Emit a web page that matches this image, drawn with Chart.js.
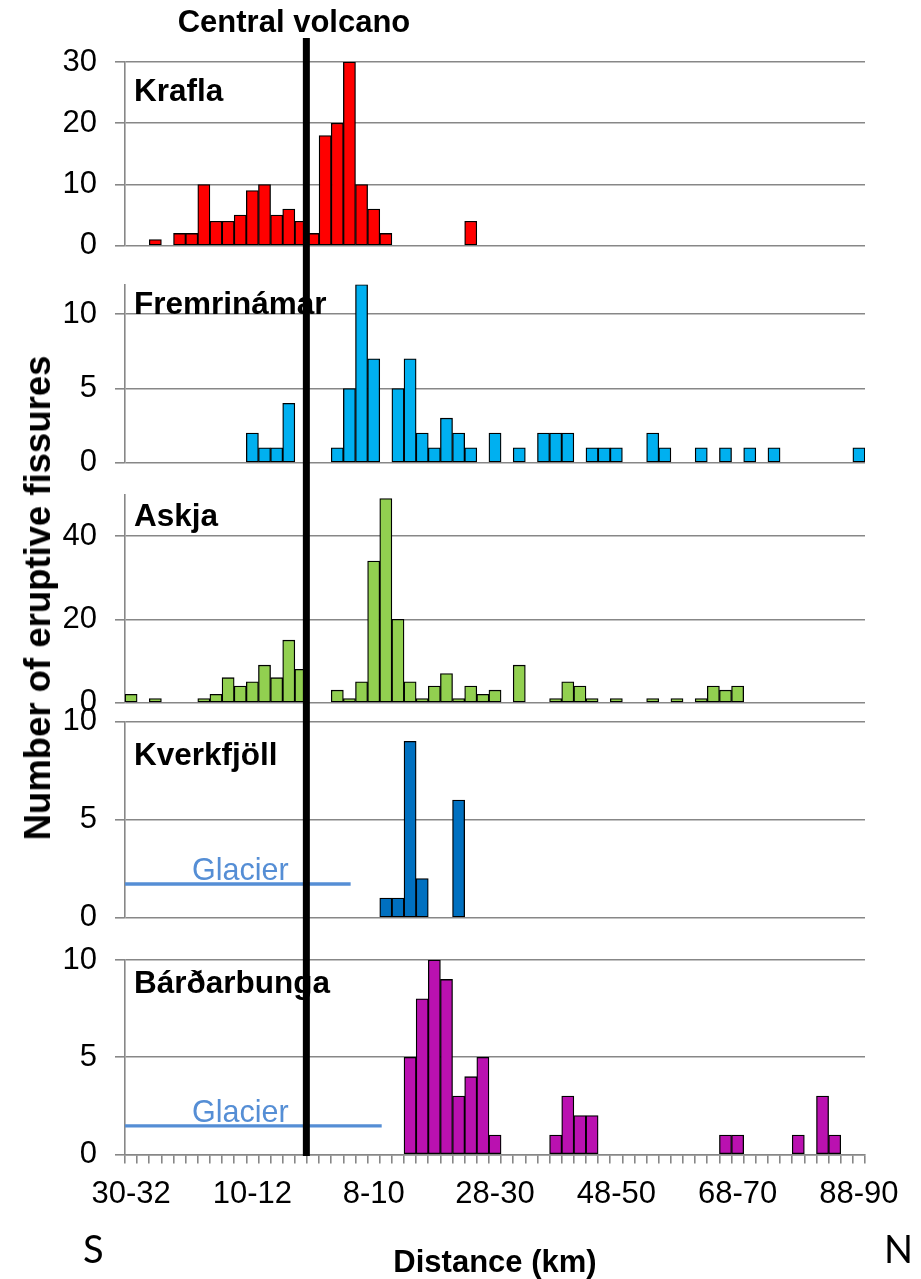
<!DOCTYPE html>
<html>
<head>
<meta charset="utf-8">
<script src="https://cdn.jsdelivr.net/npm/chart.js@4.4.1/dist/chart.umd.min.js"></script>
<style>
html,body{margin:0;padding:0;background:#fff;}
#wrap{position:relative;width:921px;height:1279px;overflow:hidden;font-family:"Liberation Sans",Arial,sans-serif;}
#wrap canvas{position:absolute;left:0;top:0;}
.t{position:absolute;white-space:nowrap;color:#000;}
#title{left:294px;top:6px;transform:translateX(-50%);font-weight:bold;font-size:31px;line-height:31px;}
#ytitle{left:37.5px;top:597.5px;transform:translate(-50%,-50%) rotate(-90deg);font-weight:bold;font-size:36.5px;line-height:36px;}
.dir{font-family:Lato,"Open Sans",sans-serif;font-size:38px;line-height:38px;top:1229px;}
#dirS{left:83px;}
#dirN{left:884px;}
</style>
</head>
<body>
<div id="wrap">
  <canvas id="c0" width="921" height="1279"></canvas>
  <canvas id="c1" width="921" height="1279"></canvas>
  <canvas id="c2" width="921" height="1279"></canvas>
  <canvas id="c3" width="921" height="1279"></canvas>
  <canvas id="c4" width="921" height="1279"></canvas>
  <div class="t" id="title">Central volcano</div>
  <div class="t" id="ytitle">Number of eruptive fissures</div>
  <div class="t dir" id="dirS">S</div>
  <div class="t dir" id="dirN">N</div>
</div>
<script>
// ---- categories: 2 km bins, south side then north side ----
const categories = [
  '30-32','28-30','26-28','24-26','22-24','20-22','18-20','16-18','14-16','12-14',
  '10-12','8-10','6-8','4-6','2-4','0-2',
  '0-2','2-4','4-6','6-8','8-10','10-12','12-14','14-16','16-18','18-20',
  '20-22','22-24','24-26','26-28','28-30','30-32','32-34','34-36','36-38','38-40',
  '40-42','42-44','44-46','46-48','48-50','50-52','52-54','54-56','56-58','58-60',
  '60-62','62-64','64-66','66-68','68-70','70-72','72-74','74-76','76-78','78-80',
  '80-82','82-84','84-86','86-88','88-90'
];
const shownTickIndex = [0, 10, 20, 30, 40, 50, 60];

// ---- series values (number of eruptive fissures per bin) ----
const krafla = [
  0,0,1,0,2,2,10,4,4,5, 9,10,5,6,4,2, 18,20,30,10,6,2,0,0,0,0, 0,0,4,0,0,0,0,0,0,0,
  0,0,0,0,0,0,0,0,0,0, 0,0,0,0,0,0,0,0,0,0, 0,0,0,0,0
];
const fremrinamar = [
  0,0,0,0,0,0,0,0,0,0, 2,1,1,4,0,0, 0,1,5,12,7,0,5,7,2,1, 3,2,1,0,2,0,1,0,2,2,
  2,0,1,1,1,0,0,2,1,0, 0,1,0,1,0,1,0,1,0,0, 0,0,0,0,1
];
const askja = [
  2,0,1,0,0,0,1,2,6,4, 5,9,6,15,8,0, 0,3,1,5,34,49,20,5,1,4, 7,1,4,2,3,0,9,0,0,1,
  5,4,1,0,1,0,0,1,0,1, 0,1,4,3,4,0,0,0,0,0, 0,0,0,0,0
];
const kverkfjoll = [
  0,0,0,0,0,0,0,0,0,0, 0,0,0,0,0,0, 0,0,0,0,0,1,1,9,2,0, 0,6,0,0,0,0,0,0,0,0,
  0,0,0,0,0,0,0,0,0,0, 0,0,0,0,0,0,0,0,0,0, 0,0,0,0,0
];
const bardarbunga = [
  0,0,0,0,0,0,0,0,0,0, 0,0,0,0,0,0, 0,0,0,0,0,0,0,5,8,10, 9,3,4,5,1,0,0,0,0,1,
  3,2,2,0,0,0,0,0,0,0, 0,0,0,1,1,0,0,0,0,1, 0,3,1,0,0
];

// ---- y tick values per panel ----
const kraflaTicks = [0, 10, 20, 30];
const fremrinamarTicks = [0, 5, 10];
const askjaTicks = [0, 20, 40];
const kverkfjollTicks = [0, 5, 10];
const bardarbungaTicks = [0, 5, 10];

const panelNames = ['Krafla', 'Fremrinámar', 'Askja', 'Kverkfjöll', 'Bárðarbunga'];

// ---- styling / layout (not data) ----
const GRID = '#878787';
const GLACIER = '#558ED5';
const FONT = '"Liberation Sans", Arial, sans-serif';

const panels = [
  {name: panelNames[0], data: krafla, ticks: kraflaTicks, max: 30, color: '#FF0000',
   top: 62, bottom: 1279 - 245.7, nameDy: 39},
  {name: panelNames[1], data: fremrinamar, ticks: fremrinamarTicks, max: 12, color: '#00B0F0',
   top: 284.6, bottom: 1279 - 462.7, nameDy: 29.7},
  {name: panelNames[2], data: askja, ticks: askjaTicks, max: 50, color: '#92D050',
   top: 494.3, bottom: 1279 - 702.7, nameDy: 31.4},
  {name: panelNames[3], data: kverkfjoll, ticks: kverkfjollTicks, max: 10, color: '#0070C0',
   top: 721.7, bottom: 1279 - 917.7, nameDy: 43.3,
   glacier: {level: 1.72, end: 18.1, textAt: 9}},
  {name: panelNames[4], data: bardarbunga, ticks: bardarbungaTicks, max: 10, color: '#BA11B0',
   top: 960, bottom: 0, nameDy: 33.3, last: true,
   glacier: {level: 1.47, end: 20.66, textAt: 9}}
];

const decoPlugin = {
  id: 'deco',
  afterDatasetsDraw(chart, args, opts) {
    const {ctx, chartArea} = chart;
    const xs = chart.scales.x, ys = chart.scales.y;
    ctx.save();
    if (opts.glacier) {
      const gy = ys.getPixelForValue(opts.glacier.level);
      const gx2 = xs.getPixelForValue(opts.glacier.end);
      ctx.strokeStyle = GLACIER;
      ctx.lineWidth = 3.3;
      ctx.beginPath();
      ctx.moveTo(chartArea.left, gy);
      ctx.lineTo(gx2, gy);
      ctx.stroke();
      ctx.fillStyle = GLACIER;
      ctx.font = '30.5px ' + FONT;
      ctx.textAlign = 'center';
      ctx.textBaseline = 'alphabetic';
      ctx.fillText('Glacier', xs.getPixelForValue(opts.glacier.textAt), gy - 4);
    }
    ctx.fillStyle = '#000';
    ctx.font = 'bold 31.5px ' + FONT;
    ctx.textAlign = 'left';
    ctx.textBaseline = 'alphabetic';
    ctx.fillText(opts.name, chartArea.left + 9, chartArea.top + opts.nameDy);
    ctx.restore();
  },
  afterDraw(chart, args, opts) {
    if (!opts.volcano) return;
    const {ctx, chartArea} = chart;
    const vx = chart.scales.x.getPixelForValue(opts.volcano.at);
    ctx.save();
    ctx.strokeStyle = '#000';
    ctx.lineWidth = 7;
    ctx.beginPath();
    ctx.moveTo(vx, opts.volcano.from);
    ctx.lineTo(vx, chartArea.bottom + 1.5);
    ctx.stroke();
    ctx.restore();
  }
};

panels.forEach((p, i) => {
  const xScale = p.last ? {
    type: 'category',
    offset: true,
    grid: {display: true, offset: true, drawOnChartArea: false, drawTicks: true,
           tickLength: 9, color: GRID, lineWidth: 1.6},
    border: {display: true, color: GRID, width: 1.6},
    ticks: {
      autoSkip: false, maxRotation: 0, minRotation: 0, padding: 12,
      color: '#000', font: {family: FONT, size: 31},
      callback: function(v, idx) { return shownTickIndex.includes(idx) ? categories[idx] : ''; }
    },
    title: {display: true, text: 'Distance (km)', color: '#000',
            font: {family: FONT, size: 31, weight: 'bold', lineHeight: 1.0},
            padding: {top: 0, bottom: 0}},
    afterFit: (s) => { s.height = 124.5; }
  } : {
    type: 'category',
    offset: true,
    display: false
  };

  new Chart(document.getElementById('c' + i), {
    type: 'bar',
    data: {
      labels: categories,
      datasets: [{
        data: p.data.map(v => v === 0 ? null : v),
        backgroundColor: p.color,
        borderColor: '#000',
        borderWidth: 1.3,
        borderSkipped: false,
        categoryPercentage: 1.0,
        barPercentage: 1.0
      }]
    },
    options: {
      responsive: false,
      animation: false,
      devicePixelRatio: 1,
      layout: {padding: {left: 0, right: 56, top: p.top, bottom: p.bottom}},
      plugins: {
        legend: {display: false},
        tooltip: {enabled: false},
        title: {display: false},
        deco: {
          name: p.name,
          nameDy: p.nameDy,
          glacier: p.glacier || null,
          volcano: p.last ? {at: 14.45, from: 38} : null
        }
      },
      scales: {
        x: xScale,
        y: {
          min: 0,
          max: p.max,
          grid: {color: GRID, lineWidth: 1.6, drawTicks: true, tickLength: 10},
          border: {display: true, color: GRID, width: 1.6},
          ticks: {color: '#000', font: {family: FONT, size: 31}, padding: 18},
          afterBuildTicks: (s) => { s.ticks = p.ticks.map(v => ({value: v})); },
          afterFit: (s) => { s.width = 125; }
        }
      }
    },
    plugins: [decoPlugin]
  });
});
</script>
</body>
</html>
